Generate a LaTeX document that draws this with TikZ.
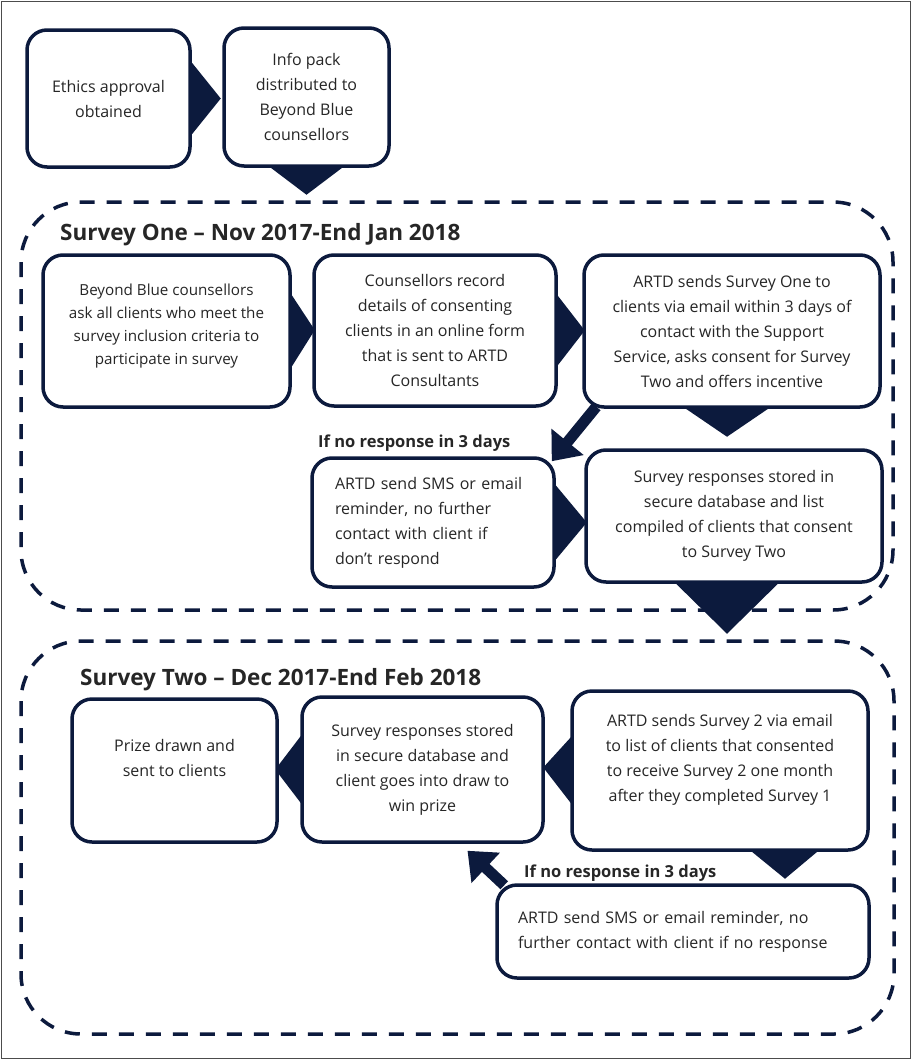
\documentclass[tikz,border=0pt]{standalone}
\usepackage{fontspec}
\setmainfont{Open Sans}
\usetikzlibrary{arrows.meta,calc,backgrounds}
\definecolor{navy}{HTML}{0C1A3D}
\definecolor{ink}{HTML}{262626}

\begin{document}
\begin{tikzpicture}[x=1pt,y=-1pt,
  box/.style={draw=navy, line width=3.5pt, rounded corners=20pt, fill=white,
    text=ink, font=\fontsize{16}{25}\selectfont, align=center, inner sep=0pt},
  region/.style={draw=navy, line width=3.5pt, dash pattern=on 15pt off 12pt, rounded corners=60pt},
  chev/.style={fill=navy},
  bigarrow/.style={draw=navy, line width=11pt, -{Triangle[width=40pt,length=25pt]}},
  title/.style={font=\fontsize{22.5}{26}\selectfont\bfseries, text=ink, anchor=base west, inner sep=0pt},
  note/.style={font=\fontsize{16.5}{20}\selectfont\bfseries, text=ink, anchor=base west, inner sep=0pt}]
\useasboundingbox (0,0) rectangle (912,1060);
% frame
\draw [gray!60!black, line width=1.2pt] (1.5,1.5) rectangle (910.5,1058.5);
% start
\node [box, minimum width=163pt, minimum height=137pt] (ethics) at (108.5,98.5) {Ethics approval\\obtained};
\node [box, minimum width=165pt, minimum height=138pt] (infopack) at (306.5,97) {Info pack\\distributed to\\Beyond Blue\\counsellors};
% survey one
\node [title] (titleone) at (60,240) {Survey One – Nov 2017-End Jan 2018};
\node [box, minimum width=247pt, minimum height=152pt, font=\fontsize{15.2}{23}\selectfont] (ask) at (166.5,331) {Beyond Blue counsellors\\ask all clients who meet the\\survey inclusion criteria to\\participate in survey\\[-10pt]\mbox{}};
\node [box, minimum width=242pt, minimum height=151pt] (record) at (435,330.5) {Counsellors record\\details of consenting\\clients in an online form\\that is sent to ARTD\\Consultants};
\node [box, minimum width=296pt, minimum height=152pt] (sendone) at (732,331) {ARTD sends Survey One to\\clients via email within 3 days of\\contact with the Support\\Service, asks consent for Survey\\Two and offers incentive};
\node [note] (noteone) at (318,447) {If no response in 3 days};
\node [box, minimum width=242pt, minimum height=129pt, align=left, text width=196pt] (remindone) at (433,522.5) {ARTD send SMS or email\\reminder, no further\\contact with client if\\don’t respond};
\node [box, minimum width=296pt, minimum height=132pt] (storedone) at (734,516) {Survey responses stored in\\secure database and list\\compiled of clients that consent\\to Survey Two};
% survey two
\node [title] (titletwo) at (80,685) {Survey Two – Dec 2017-End Feb 2018};
\node [box, minimum width=205pt, minimum height=143pt] (prize) at (174.5,770.5) {Prize drawn and\\sent to clients\\\mbox{}};
\node [box, minimum width=241pt, minimum height=145pt] (storedtwo) at (422.5,769.5) {Survey responses stored\\in secure database and\\client goes into draw to\\win prize};
\node [box, minimum width=296pt, minimum height=159pt] (sendtwo) at (720,770.5) {ARTD sends Survey 2 via email\\to list of clients that consented\\to receive Survey 2 one month\\after they completed Survey 1\\\mbox{}};
\node [note] (notetwo) at (524,877) {If no response in 3 days};
\node [box, minimum width=372pt, minimum height=93pt, align=left, text width=330pt] (remindtwo) at (683,931.5) {ARTD send SMS or email reminder, no\\further contact with client if no response};
% regions and chevrons
\begin{scope}[on background layer]
\draw [region] (21,202) rectangle (893,610);
\draw [region] (21,641) rectangle (894,1034);
\fill [chev] ($(ethics.east)+(-4,-41)$) -- ($(ethics.east)+(29,0)$) -- ($(ethics.east)+(-4,41)$) -- cycle;
\fill [chev] ($(infopack.south)+(-41,-4)$) -- ($(infopack.south)+(0,27)$) -- ($(infopack.south)+(41,-4)$) -- cycle;
\fill [chev] ($(ask.east)+(-4,-42)$) -- ($(ask.east)+(23,-1)$) -- ($(ask.east)+(-4,42)$) -- cycle;
\fill [chev] ($(record.east)+(-4,-40)$) -- ($(record.east)+(27,0)$) -- ($(record.east)+(-4,40)$) -- cycle;
\fill [chev] ($(sendone.south)+(-52,-4)$) -- ($(sendone.south)+(-5,28)$) -- ($(sendone.south)+(42,-4)$) -- cycle;
\fill [chev] ($(remindone.east)+(-4,-42)$) -- ($(remindone.east)+(31,0)$) -- ($(remindone.east)+(-4,42)$) -- cycle;
\fill [chev] ($(storedone.south)+(-62,-4)$) -- ($(storedone.south)+(-7,50)$) -- ($(storedone.south)+(48,-4)$) -- cycle;
\fill [chev] ($(storedtwo.west)+(4,-38)$) -- ($(storedtwo.west)+(-25,0)$) -- ($(storedtwo.west)+(4,38)$) -- cycle;
\fill [chev] ($(sendtwo.west)+(4,-37)$) -- ($(sendtwo.west)+(-27,-3)$) -- ($(sendtwo.west)+(4,37)$) -- cycle;
\fill [chev] ($(sendtwo.south)+(27,-4)$) -- ($(sendtwo.south)+(65,27)$) -- ($(sendtwo.south)+(102,-4)$) -- cycle;
\end{scope}
% reminder arrows
\draw [bigarrow] ($(sendone.south west)+(14,-2)$) -- ($(remindone.north east)+(-4,5)$);
\draw [bigarrow] ($(remindtwo.north west)+(9,2)$) -- ($(storedtwo.south)+(45,7)$);
\end{tikzpicture}
\end{document}
